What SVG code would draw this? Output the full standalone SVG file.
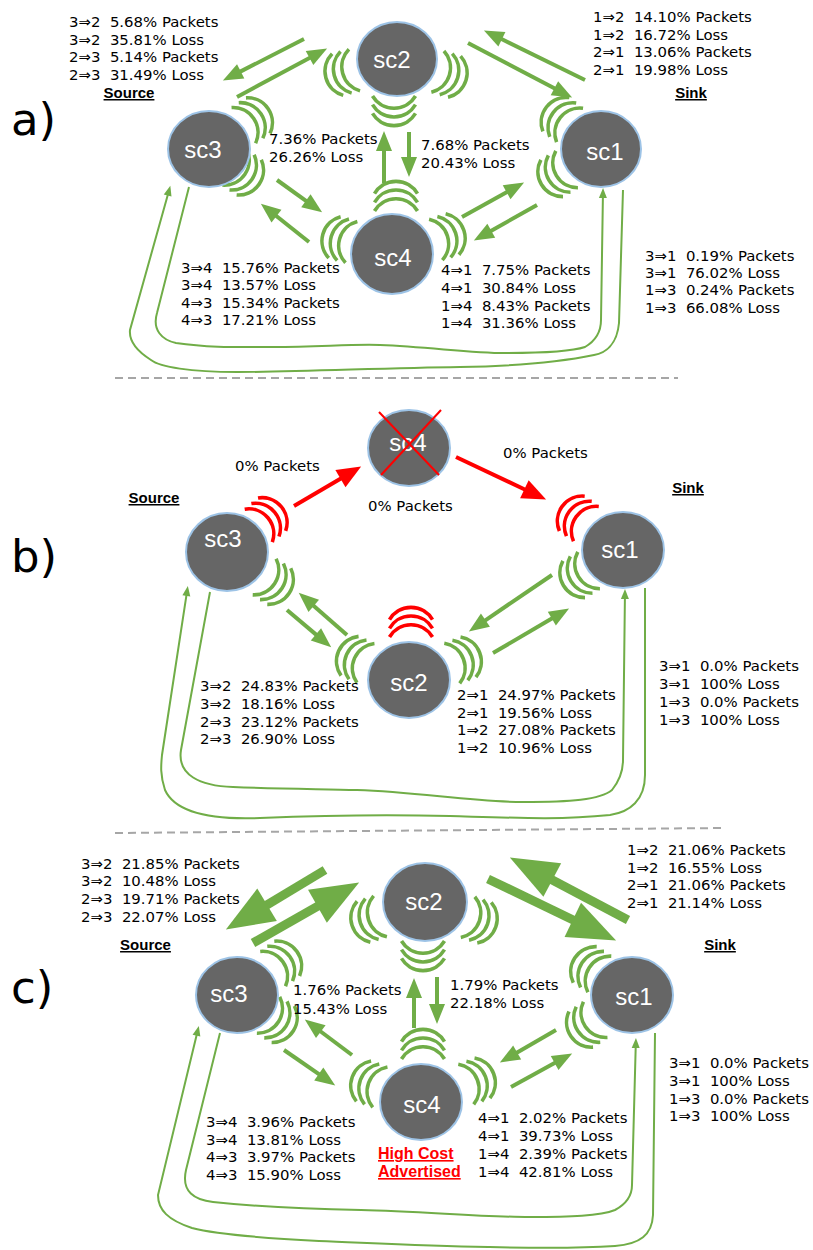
<svg xmlns="http://www.w3.org/2000/svg" width="813" height="1250" viewBox="0 0 813 1250">
<style>
.n ellipse{fill:#666666;stroke:#9dc3e6;stroke-width:2}
.n text{font-family:"Liberation Sans",Arial,sans-serif;font-size:24px;fill:#ffffff;text-anchor:middle}
.t{font-family:"DejaVu Sans",Verdana,sans-serif;font-size:14.9px;fill:#000000;white-space:pre}
.h{font-family:"Liberation Sans",Arial,sans-serif;font-size:15px;font-weight:bold;text-decoration:underline;text-anchor:middle;fill:#000000}
.hc{font-family:"Liberation Sans",Arial,sans-serif;font-size:16px;font-weight:bold;text-decoration:underline;fill:#ff0000}
.big{font-family:"DejaVu Sans",Verdana,sans-serif;font-size:45px;fill:#000000}
.wg{fill:none;stroke:#70ad47;stroke-width:3.6}
.wr{fill:none;stroke:#ff0000;stroke-width:3.6}
.ag{fill:none;stroke:#70ad47;stroke-width:4;marker-end:url(#mg)}
.ab{fill:none;stroke:#70ad47;stroke-width:9;marker-end:url(#mb)}
.ar{fill:none;stroke:#ff0000;stroke-width:4;marker-end:url(#mr)}
.at{fill:none;stroke:#70ad47;stroke-width:2;marker-end:url(#mt)}
.x{stroke:#ff0000;stroke-width:2}
.sep{stroke:#a6a6a6;stroke-width:2;stroke-dasharray:8 5}
</style>
<defs>
<g id="w"><path d="M-15,-21.5 A25,25 0 0 1 -15,21.5 M-6.3,-21.5 A25,25 0 0 1 -6.3,21.5 M2.4,-21.5 A25,25 0 0 1 2.4,21.5"/></g>
<marker id="mg" markerUnits="userSpaceOnUse" orient="auto" refX="1" refY="0" markerWidth="30" markerHeight="30" overflow="visible"><path d="M0,-8 L20,0 L0,8z" fill="#70ad47"/></marker>
<marker id="mb" markerUnits="userSpaceOnUse" orient="auto" refX="1" refY="0" markerWidth="60" markerHeight="60" overflow="visible"><path d="M0,-19 L48,0 L0,19z" fill="#70ad47"/></marker>
<marker id="mr" markerUnits="userSpaceOnUse" orient="auto" refX="1" refY="0" markerWidth="30" markerHeight="30" overflow="visible"><path d="M0,-10 L24,0 L0,10z" fill="#ff0000"/></marker>
<marker id="mt" markerUnits="userSpaceOnUse" orient="auto" refX="1" refY="0" markerWidth="15" markerHeight="15" overflow="visible"><path d="M0,-4 L10,0 L0,4z" fill="#70ad47"/></marker>
</defs>

<g id="separators">
<line class="sep" x1="115" y1="378" x2="678" y2="378"/>
<line class="sep" x1="115" y1="833" x2="725" y2="828"/>
</g>
<g id="panel-labels">
<text class="big" x="11" y="135">a)</text>
<text class="big" x="11" y="572">b)</text>
<text class="big" x="11" y="1003">c)</text>
</g>

<g id="connectors">
<path class="ag" d="M304,39 L239.8,71.9"/>
<path class="ag" d="M237,97 L310.4,57.5"/>
<path class="ag" d="M585,80 L501,38.8"/>
<path class="ag" d="M468,43 L555.3,88.7"/>
<path class="ag" d="M384,183 L384,150"/>
<path class="ag" d="M409,132 L409,158"/>
<path class="ag" d="M277,180 L306.7,201.3"/>
<path class="ag" d="M309,242 L275.7,215.5"/>
<path class="ag" d="M462,217 L507.5,191.7"/>
<path class="ag" d="M537,205 L490.4,231.2"/>
<path class="at" d="M623,190 L619,323 C617,345 605,353 594,355 C560,362 520,366 460,367 C380,368 300,372 237,372 C190,372 160,367 151,360 C135,350 129,340 130,330 L167.9,194.5"/>
<path class="at" d="M189,187 L157,313 C152,330 162,340 176,343 C210,348 240,347 273,347 C320,347 350,344 380,345 C430,347 470,353 505,353 C540,353 570,352 585,347 C597,340 601,330 601,320 L602.9,197"/>
<path class="ar" d="M294,506 L341.3,478.2"/>
<path class="ar" d="M456,457 L525.3,489.7"/>
<path class="ag" d="M347,635 L313,605.2"/>
<path class="ag" d="M287,610 L316.7,635.1"/>
<path class="ag" d="M552,575 L484.6,620.8"/>
<path class="ag" d="M493,653 L552.7,618.1"/>
<path class="at" d="M645,588 L645,775 C645,800 630,812 610,815 C560,820 520,818 450,816 C380,814 330,815 260,818 C210,820 175,812 165,790 C160,775 161,765 162,755 L186.5,594.9"/>
<path class="at" d="M210,592 L181,750 C177,775 200,786 233,787 C280,789 320,789 357,790 C420,792 470,802 523,802 C570,802 600,800 612,790 C620,780 623,770 623,760 L624.9,598"/>
<path class="ab" d="M325,870 L266.2,905.3"/>
<path class="ab" d="M253,943 L318.3,905.8"/>
<path class="ab" d="M628,920 L551.4,879.5"/>
<path class="ab" d="M488,879 L573.7,920.2"/>
<path class="ag" d="M414,1028 L414,997"/>
<path class="ag" d="M437,977 L437,1005"/>
<path class="ag" d="M352,1055 L320,1031"/>
<path class="ag" d="M284,1050 L319.6,1074.6"/>
<path class="ag" d="M556,1030 L516.3,1053"/>
<path class="ag" d="M511,1087 L555.5,1062.6"/>
<path class="at" d="M220,1033 L186,1170 C181,1192 195,1200 213,1202 C260,1207 310,1209 361,1210 C420,1211 480,1217 530,1217 C570,1217 600,1216 615,1210 C628,1203 632,1195 632,1185 L635.7,1047"/>
<path class="at" d="M655,1033 L653,1215 C652,1235 640,1244 615,1246 C570,1249 530,1248 488,1247 C420,1246 370,1243 319,1241 C260,1238 215,1234 192,1228 C168,1220 158,1210 158,1195 L196.7,1034.7"/>
</g>

<g id="a-sc2" class="n">
<use href="#w" class="wg" transform="translate(340,74) rotate(165)"/>
<use href="#w" class="wg" transform="translate(452,76) rotate(17)"/>
<use href="#w" class="wg" transform="translate(394,111) rotate(90)"/>
<ellipse cx="397" cy="59" rx="40" ry="37"/>
<text x="392" y="68">sc2</text>
</g>
<g id="a-sc3" class="n">
<use href="#w" class="wg" transform="translate(256,117) rotate(-34)"/>
<use href="#w" class="wg" transform="translate(247,176) rotate(35)"/>
<ellipse cx="209" cy="149" rx="41" ry="38"/>
<text x="203" y="158">sc3</text>
</g>
<g id="a-sc1" class="n">
<use href="#w" class="wg" transform="translate(558,116) rotate(218)"/>
<use href="#w" class="wg" transform="translate(554,177) rotate(149)"/>
<ellipse cx="601" cy="149" rx="40" ry="38"/>
<text x="605" y="160">sc1</text>
</g>
<g id="a-sc4" class="n">
<use href="#w" class="wg" transform="translate(396,196) rotate(-90)"/>
<use href="#w" class="wg" transform="translate(337,238) rotate(196)"/>
<use href="#w" class="wg" transform="translate(450,235) rotate(-18)"/>
<ellipse cx="392" cy="254" rx="41" ry="40"/>
<text x="393" y="266">sc4</text>
</g>

<g id="b-sc4" class="n">
<ellipse cx="409" cy="448" rx="41" ry="38"/>
<text x="408" y="451">sc4</text>
<line class="x" x1="379" y1="412" x2="439" y2="475"/>
<line class="x" x1="441" y1="410" x2="381" y2="475"/>
</g>
<g id="b-sc3" class="n">
<use href="#w" class="wr" transform="translate(270,516) rotate(-40)"/>
<use href="#w" class="wg" transform="translate(277,585) rotate(33)"/>
<ellipse cx="227" cy="552" rx="41" ry="39"/>
<text x="223" y="547">sc3</text>
</g>
<g id="b-sc1" class="n">
<use href="#w" class="wr" transform="translate(574,515) rotate(216)"/>
<use href="#w" class="wg" transform="translate(576,578) rotate(149)"/>
<ellipse cx="623" cy="550" rx="41" ry="38"/>
<text x="620" y="558">sc1</text>
</g>
<g id="b-sc2" class="n">
<use href="#w" class="wr" transform="translate(411,622) rotate(-90)"/>
<use href="#w" class="wg" transform="translate(352,657) rotate(204)"/>
<use href="#w" class="wg" transform="translate(466,658) rotate(-21)"/>
<ellipse cx="409" cy="680" rx="41" ry="38"/>
<text x="409" y="691">sc2</text>
</g>

<g id="c-sc2" class="n">
<use href="#w" class="wg" transform="translate(366,921) rotate(162)"/>
<use href="#w" class="wg" transform="translate(482,922) rotate(19)"/>
<use href="#w" class="wg" transform="translate(423,956) rotate(90)"/>
<ellipse cx="425" cy="902" rx="42" ry="39"/>
<text x="424" y="910">sc2</text>
</g>
<g id="c-sc3" class="n">
<use href="#w" class="wg" transform="translate(285,960) rotate(-36)"/>
<use href="#w" class="wg" transform="translate(281,1023) rotate(32)"/>
<ellipse cx="237" cy="995" rx="41" ry="38"/>
<text x="229" y="1002">sc3</text>
</g>
<g id="c-sc1" class="n">
<use href="#w" class="wg" transform="translate(587,966) rotate(213)"/>
<use href="#w" class="wg" transform="translate(583,1028) rotate(146)"/>
<ellipse cx="632" cy="995" rx="41" ry="38"/>
<text x="634" y="1005">sc1</text>
</g>
<g id="c-sc4" class="n">
<use href="#w" class="wg" transform="translate(423,1044) rotate(-90)"/>
<use href="#w" class="wg" transform="translate(366,1082) rotate(200)"/>
<use href="#w" class="wg" transform="translate(480,1079) rotate(-21)"/>
<ellipse cx="421" cy="1102" rx="41" ry="38"/>
<text x="422" y="1113">sc4</text>
</g>

<g id="a-labels">
<text class="t" x="69" y="27">3⇒2  5.68% Packets</text>
<text class="t" x="69" y="44.7">3⇒2  35.81% Loss</text>
<text class="t" x="69" y="62.4">2⇒3  5.14% Packets</text>
<text class="t" x="69" y="80">2⇒3  31.49% Loss</text>
<text class="h" x="129" y="98">Source</text>
<text class="t" x="593" y="22">1⇒2  14.10% Packets</text>
<text class="t" x="593" y="39.6">1⇒2  16.72% Loss</text>
<text class="t" x="593" y="57.4">2⇒1  13.06% Packets</text>
<text class="t" x="593" y="75.2">2⇒1  19.98% Loss</text>
<text class="h" x="691" y="98">Sink</text>
<text class="t" x="269" y="143.6">7.36% Packets</text>
<text class="t" x="269" y="162">26.26% Loss</text>
<text class="t" x="421" y="150.3">7.68% Packets</text>
<text class="t" x="421" y="168">20.43% Loss</text>
<text class="t" x="181" y="273">3⇒4  15.76% Packets</text>
<text class="t" x="181" y="290.3">3⇒4  13.57% Loss</text>
<text class="t" x="181" y="307.6">4⇒3  15.34% Packets</text>
<text class="t" x="181" y="325.3">4⇒3  17.21% Loss</text>
<text class="t" x="441" y="275.3">4⇒1  7.75% Packets</text>
<text class="t" x="441" y="293.3">4⇒1  30.84% Loss</text>
<text class="t" x="441" y="311">1⇒4  8.43% Packets</text>
<text class="t" x="441" y="328.3">1⇒4  31.36% Loss</text>
<text class="t" x="645" y="260.6">3⇒1  0.19% Packets</text>
<text class="t" x="645" y="278">3⇒1  76.02% Loss</text>
<text class="t" x="645" y="295.3">1⇒3  0.24% Packets</text>
<text class="t" x="645" y="312.6">1⇒3  66.08% Loss</text>
</g>

<g id="b-labels">
<text class="t" x="235" y="471.3">0% Packets</text>
<text class="t" x="503" y="458.3">0% Packets</text>
<text class="t" x="368" y="511.3">0% Packets</text>
<text class="h" x="154" y="503">Source</text>
<text class="h" x="688" y="493">Sink</text>
<text class="t" x="200" y="691.3">3⇒2  24.83% Packets</text>
<text class="t" x="200" y="709.3">3⇒2  18.16% Loss</text>
<text class="t" x="200" y="727">2⇒3  23.12% Packets</text>
<text class="t" x="200" y="744.3">2⇒3  26.90% Loss</text>
<text class="t" x="457" y="699.6">2⇒1  24.97% Packets</text>
<text class="t" x="457" y="717.6">2⇒1  19.56% Loss</text>
<text class="t" x="457" y="735.3">1⇒2  27.08% Packets</text>
<text class="t" x="457" y="752.6">1⇒2  10.96% Loss</text>
<text class="t" x="659" y="671.3">3⇒1  0.0% Packets</text>
<text class="t" x="659" y="689.3">3⇒1  100% Loss</text>
<text class="t" x="659" y="707">1⇒3  0.0% Packets</text>
<text class="t" x="659" y="724.6">1⇒3  100% Loss</text>
</g>

<g id="c-labels">
<text class="t" x="81" y="868.6">3⇒2  21.85% Packets</text>
<text class="t" x="81" y="886.3">3⇒2  10.48% Loss</text>
<text class="t" x="81" y="904.3">2⇒3  19.71% Packets</text>
<text class="t" x="81" y="922">2⇒3  22.07% Loss</text>
<text class="h" x="145.5" y="950">Source</text>
<text class="t" x="627" y="855.3">1⇒2  21.06% Packets</text>
<text class="t" x="627" y="872.6">1⇒2  16.55% Loss</text>
<text class="t" x="627" y="890.3">2⇒1  21.06% Packets</text>
<text class="t" x="627" y="908">2⇒1  21.14% Loss</text>
<text class="h" x="720" y="950">Sink</text>
<text class="t" x="293" y="995.3">1.76% Packets</text>
<text class="t" x="293" y="1013.6">15.43% Loss</text>
<text class="t" x="450" y="989.6">1.79% Packets</text>
<text class="t" x="450" y="1007.6">22.18% Loss</text>
<text class="t" x="206" y="1127.3">3⇒4  3.96% Packets</text>
<text class="t" x="206" y="1145">3⇒4  13.81% Loss</text>
<text class="t" x="206" y="1162">4⇒3  3.97% Packets</text>
<text class="t" x="206" y="1179.6">4⇒3  15.90% Loss</text>
<text class="hc" x="378" y="1159">High Cost</text>
<text class="hc" x="378" y="1177">Advertised</text>
<text class="t" x="478" y="1123.3">4⇒1  2.02% Packets</text>
<text class="t" x="478" y="1141">4⇒1  39.73% Loss</text>
<text class="t" x="478" y="1159">1⇒4  2.39% Packets</text>
<text class="t" x="478" y="1176.6">1⇒4  42.81% Loss</text>
<text class="t" x="669" y="1068">3⇒1  0.0% Packets</text>
<text class="t" x="669" y="1086">3⇒1  100% Loss</text>
<text class="t" x="669" y="1103.6">1⇒3  0.0% Packets</text>
<text class="t" x="669" y="1121">1⇒3  100% Loss</text>
</g>
</svg>
